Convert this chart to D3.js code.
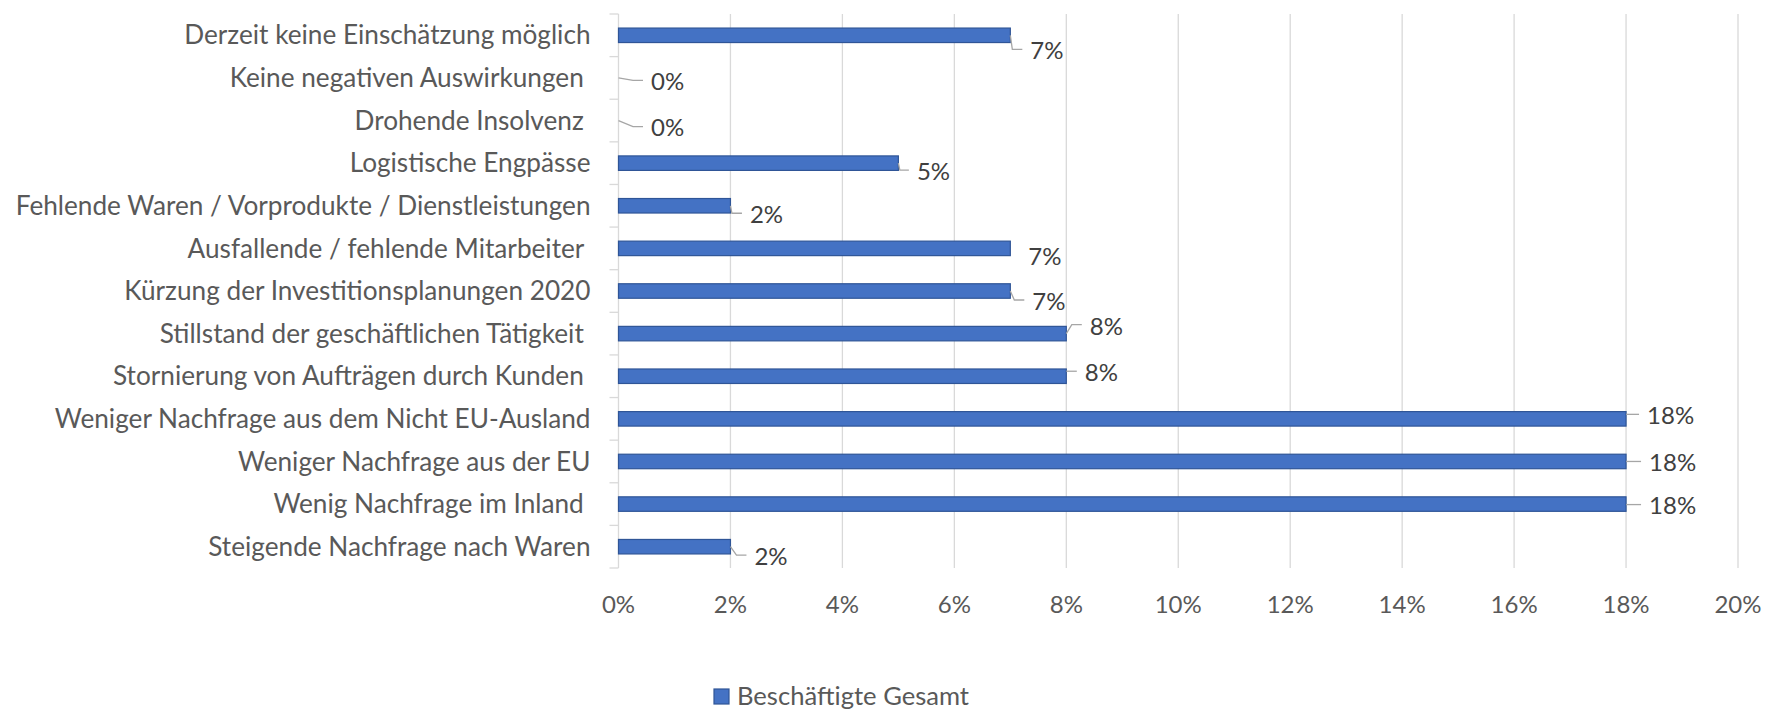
<!DOCTYPE html>
<html>
<head>
<meta charset="utf-8">
<script src="https://cdn.jsdelivr.net/npm/d3@7"></script>
<style>
  html, body { margin: 0; padding: 0; background: #fff; }
  svg text { font-family: Lato, "Open Sans", sans-serif; }
</style>
</head>
<body>
<div id="chart"></div>
<script>
// categories top to bottom, as in the chart
const categories = [
  "Derzeit keine Einschätzung möglich",
  "Keine negativen Auswirkungen ",
  "Drohende Insolvenz ",
  "Logistische Engpässe",
  "Fehlende Waren / Vorprodukte / Dienstleistungen",
  "Ausfallende / fehlende Mitarbeiter ",
  "Kürzung der Investitionsplanungen 2020",
  "Stillstand der geschäftlichen Tätigkeit ",
  "Stornierung von Aufträgen durch Kunden ",
  "Weniger Nachfrage aus dem Nicht EU-Ausland",
  "Weniger Nachfrage aus der EU",
  "Wenig Nachfrage im Inland ",
  "Steigende Nachfrage nach Waren"
];
const values = [7, 0, 0, 5, 2, 7, 7, 8, 8, 18, 18, 18, 2];
const seriesName = "Beschäftigte Gesamt";
const xTicks = [0, 2, 4, 6, 8, 10, 12, 14, 16, 18, 20];

// where excel left each data label (dx from bar end, dy from bar centre, leader line?)
const labelOffsets = [
  [20, 15.5, true], [32.5, 4, true], [32.5, 7.5, true], [18.5, 8.5, true],
  [19.5, 9, true], [18, 8.5, false], [22, 10.5, true], [23.5, -7.5, true],
  [18.5, -3.5, true], [21, -3, true], [23, 1.5, true], [23, 2, true], [24, 10, true]
];

const width = 1767, height = 711;
const plot = { left: 618.5, right: 1738, top: 14, bottom: 568 };
const fontSize = 24;

const svg = d3.select("#chart").append("svg")
  .attr("width", width)
  .attr("height", height);

const x = d3.scaleLinear().domain([0, 20]).range([plot.left, plot.right]);
const y = d3.scaleBand().domain(categories).range([plot.top, plot.bottom]).padding(0);
const barH = y.bandwidth() * 0.34;

// gridlines
svg.append("g")
  .selectAll("line")
  .data(xTicks.slice(1))
  .enter().append("line")
  .attr("x1", d => x(d)).attr("x2", d => x(d))
  .attr("y1", plot.top).attr("y2", plot.bottom)
  .style("stroke", "#d9d9d9")
  .style("stroke-width", 1.3);

// y axis line with the small outside ticks
const yAxis = svg.append("g").attr("transform", `translate(${plot.left},0)`);
yAxis.append("line")
  .attr("x1", 0).attr("x2", 0).attr("y1", plot.top).attr("y2", plot.bottom)
  .style("stroke", "#d9d9d9").style("stroke-width", 1.3);
const bounds = categories.map(c => y(c)).concat([plot.bottom]);
yAxis.selectAll(".tk")
  .data(bounds)
  .enter().append("line")
  .attr("class", "tk")
  .attr("x1", -9).attr("x2", 0)
  .attr("y1", d => d).attr("y2", d => d)
  .style("stroke", "#d9d9d9").style("stroke-width", 1.3);

yAxis.selectAll(".lbl")
  .data(categories)
  .enter().append("text")
  .attr("class", "lbl")
  .attr("x", -28)
  .attr("y", d => y(d) + y.bandwidth() / 2)
  .attr("dy", "0.35em")
  .attr("text-anchor", "end")
  .style("white-space", "pre")
  .attr("xml:space", "preserve")
  .style("font-size", "26.2px")
  .style("fill", "#595959")
  .text(d => d);

// x axis tick labels
svg.append("g")
  .selectAll("text")
  .data(xTicks)
  .enter().append("text")
  .attr("x", d => x(d))
  .attr("y", 605)
  .attr("dy", "0.35em")
  .attr("text-anchor", "middle")
  .style("font-size", fontSize + "px")
  .style("fill", "#595959")
  .text(d => d + "%");

// bars
const rows = categories.map((c, i) => ({ cat: c, v: values[i], off: labelOffsets[i] }));

svg.append("g")
  .selectAll("rect")
  .data(rows.filter(d => d.v > 0))
  .enter().append("rect")
  .attr("x", x(0))
  .attr("y", d => y(d.cat) + (y.bandwidth() - barH) / 2)
  .attr("width", d => x(d.v) - x(0))
  .attr("height", barH)
  .style("fill", "#4472c4")
  .style("stroke", "#2f5597")
  .style("stroke-width", 1.2);

// leader lines
svg.append("g")
  .selectAll("path")
  .data(rows.filter(d => d.off[2]))
  .enter().append("path")
  .attr("d", d => {
    const x0 = x(d.v), y0 = y(d.cat) + y.bandwidth() / 2;
    const lx = x0 + d.off[0], ly = y0 + d.off[1] - 1.5;
    const k = Math.max(d.off[0] - 18, 1.5);
    if (Math.abs(d.off[1]) < 4) return `M${x0},${ly}H${lx - 8}`;
    return `M${x0},${y0}L${x0 + k},${ly}H${lx - 8}`;
  })
  .style("fill", "none")
  .style("stroke", "#a6a6a6")
  .style("stroke-width", 1.3);

// data labels
svg.append("g")
  .selectAll("text")
  .data(rows)
  .enter().append("text")
  .attr("x", d => x(d.v) + d.off[0])
  .attr("y", d => y(d.cat) + y.bandwidth() / 2 + d.off[1])
  .attr("dy", "0.35em")
  .style("font-size", fontSize + "px")
  .style("fill", "#404040")
  .text(d => d.v + "%");

// legend
const legend = svg.append("g").attr("transform", "translate(714,689)");
legend.append("rect")
  .attr("width", 15).attr("height", 15)
  .style("fill", "#4472c4").style("stroke", "#2f5597").style("stroke-width", 1.2);
legend.append("text")
  .attr("x", 23).attr("y", 7.5).attr("dy", "0.35em")
  .style("font-size", "25.6px")
  .style("fill", "#595959")
  .text(seriesName);
</script>
</body>
</html>
